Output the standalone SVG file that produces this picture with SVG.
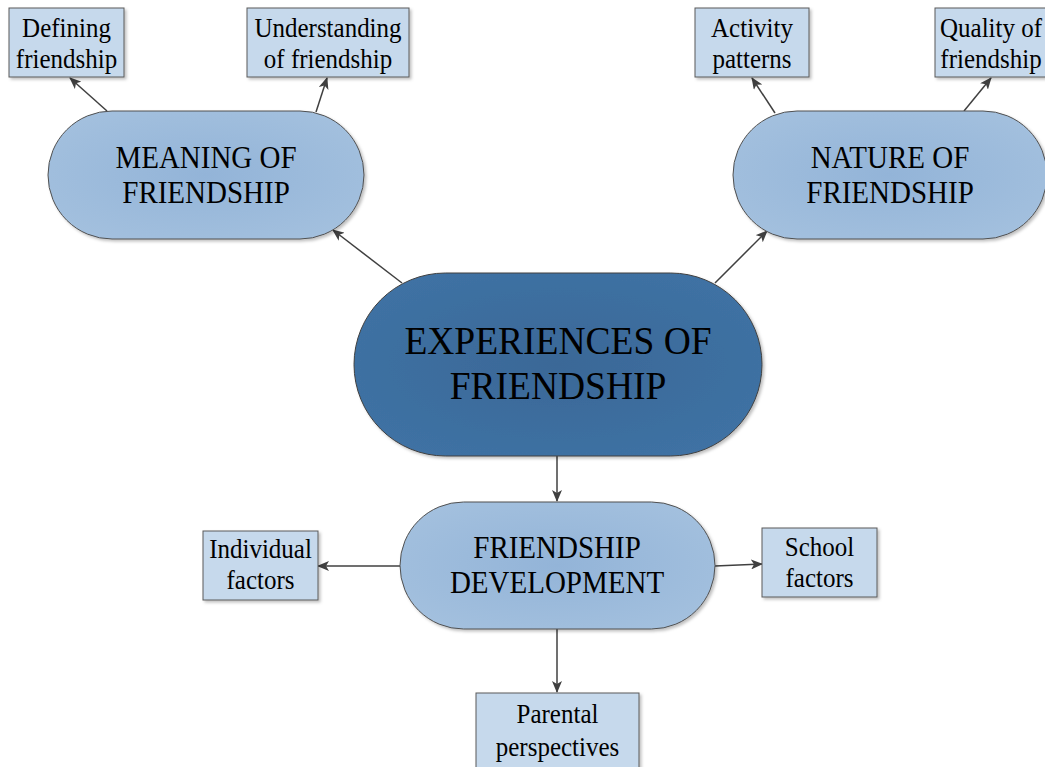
<svg xmlns="http://www.w3.org/2000/svg" width="1045" height="767" viewBox="0 0 1045 767">
<defs>
<radialGradient id="gl" cx="50%" cy="50%" r="60%">
<stop offset="0" stop-color="#93b4d8"/><stop offset="1" stop-color="#a3c0de"/>
</radialGradient>
<radialGradient id="gd" cx="50%" cy="50%" r="60%">
<stop offset="0" stop-color="#3a6897"/><stop offset="1" stop-color="#3f72a4"/>
</radialGradient>
<filter id="sh" x="-10%" y="-10%" width="130%" height="130%">
<feDropShadow dx="2" dy="2" stdDeviation="1.5" flood-color="#000" flood-opacity="0.25"/>
</filter>
<marker id="ah" markerWidth="12" markerHeight="10" refX="11" refY="5" orient="auto" markerUnits="userSpaceOnUse">
<path d="M0,0 L12,5 L0,10 L3,5 Z" fill="#404040"/>
</marker>
</defs>
<style>
.box{fill:#c6d9ec;stroke:#5a5a5a;stroke-width:1;filter:url(#sh)}
.lt{fill:url(#gl);stroke:#505050;stroke-width:1;filter:url(#sh)}
.dk{fill:url(#gd);stroke:#404040;stroke-width:1;filter:url(#sh)}
.s{font-size:25px;fill:#000;text-anchor:middle}
.m{font-size:29px;fill:#000;text-anchor:middle}
.l{font-size:37.5px;fill:#000;text-anchor:middle}
.c{stroke:#404040;stroke-width:1.5;fill:none;marker-end:url(#ah)}
</style>
<g id="connectors">
<line class="c" x1="107" y1="111" x2="70" y2="78"/>
<line class="c" x1="316" y1="112" x2="327" y2="78"/>
<line class="c" x1="402" y1="283" x2="333" y2="230"/>
<line class="c" x1="715" y1="283" x2="767" y2="231"/>
<line class="c" x1="775" y1="113" x2="752" y2="78"/>
<line class="c" x1="964" y1="111" x2="991" y2="78"/>
<line class="c" x1="557" y1="456" x2="557" y2="501"/>
<line class="c" x1="400" y1="566" x2="318" y2="566"/>
<line class="c" x1="715" y1="566" x2="762" y2="564"/>
<line class="c" x1="557" y1="629" x2="557" y2="692"/>
</g>
<g id="n-defining"><rect class="box" x="9" y="8" width="115" height="69"/>
<text class="s" font-family="Liberation Serif" transform="translate(66.5,37) scale(1,1.1)">Defining</text><text class="s" font-family="Liberation Serif" transform="translate(66.5,68) scale(1,1.1)">friendship</text></g>
<g id="n-understanding"><rect class="box" x="247" y="8" width="162" height="69"/>
<text class="s" font-family="Liberation Serif" transform="translate(328,37) scale(1,1.1)">Understanding</text><text class="s" font-family="Liberation Serif" transform="translate(328,68) scale(1,1.1)">of friendship</text></g>
<g id="n-activity"><rect class="box" x="695" y="8" width="114" height="69"/>
<text class="s" font-family="Liberation Serif" transform="translate(752,37) scale(1,1.1)">Activity</text><text class="s" font-family="Liberation Serif" transform="translate(752,68) scale(1,1.1)">patterns</text></g>
<g id="n-quality"><rect class="box" x="935" y="8" width="115" height="69"/>
<text class="s" font-family="Liberation Serif" transform="translate(991,37) scale(1,1.1)">Quality of</text><text class="s" font-family="Liberation Serif" transform="translate(991,68) scale(1,1.1)">friendship</text></g>
<g id="n-meaning"><rect class="lt" x="48" y="111" width="316" height="128" rx="64" ry="64"/>
<text class="m" font-family="Liberation Serif" transform="translate(206,168) scale(1,1.1)">MEANING OF</text><text class="m" font-family="Liberation Serif" transform="translate(206,203) scale(1,1.1)">FRIENDSHIP</text></g>
<g id="n-nature"><rect class="lt" x="733" y="111" width="314" height="128" rx="64" ry="64"/>
<text class="m" font-family="Liberation Serif" transform="translate(890,168) scale(1,1.1)">NATURE OF</text><text class="m" font-family="Liberation Serif" transform="translate(890,203) scale(1,1.1)">FRIENDSHIP</text></g>
<g id="n-experiences"><rect class="dk" x="354" y="273" width="408" height="183" rx="91.5" ry="91.5"/>
<text class="l" font-family="Liberation Serif" transform="translate(558,354) scale(1,1.08)">EXPERIENCES OF</text><text class="l" font-family="Liberation Serif" transform="translate(558,399) scale(1,1.08)">FRIENDSHIP</text></g>
<g id="n-development"><rect class="lt" x="400" y="502" width="315" height="127" rx="63.5" ry="63.5"/>
<text class="m" font-family="Liberation Serif" transform="translate(557,558) scale(1,1.1)">FRIENDSHIP</text><text class="m" font-family="Liberation Serif" transform="translate(557,593) scale(1,1.1)">DEVELOPMENT</text></g>
<g id="n-individual"><rect class="box" x="203" y="531" width="115" height="69"/>
<text class="s" font-family="Liberation Serif" transform="translate(260.5,558) scale(1,1.1)">Individual</text><text class="s" font-family="Liberation Serif" transform="translate(260.5,589) scale(1,1.1)">factors</text></g>
<g id="n-school"><rect class="box" x="762" y="528" width="115" height="69"/>
<text class="s" font-family="Liberation Serif" transform="translate(819.5,556) scale(1,1.1)">School</text><text class="s" font-family="Liberation Serif" transform="translate(819.5,587) scale(1,1.1)">factors</text></g>
<g id="n-parental"><rect class="box" x="476" y="693" width="163" height="80"/>
<text class="s" font-family="Liberation Serif" transform="translate(557.5,723) scale(1,1.1)">Parental</text><text class="s" font-family="Liberation Serif" transform="translate(557.5,756) scale(1,1.1)">perspectives</text></g>
</svg>
